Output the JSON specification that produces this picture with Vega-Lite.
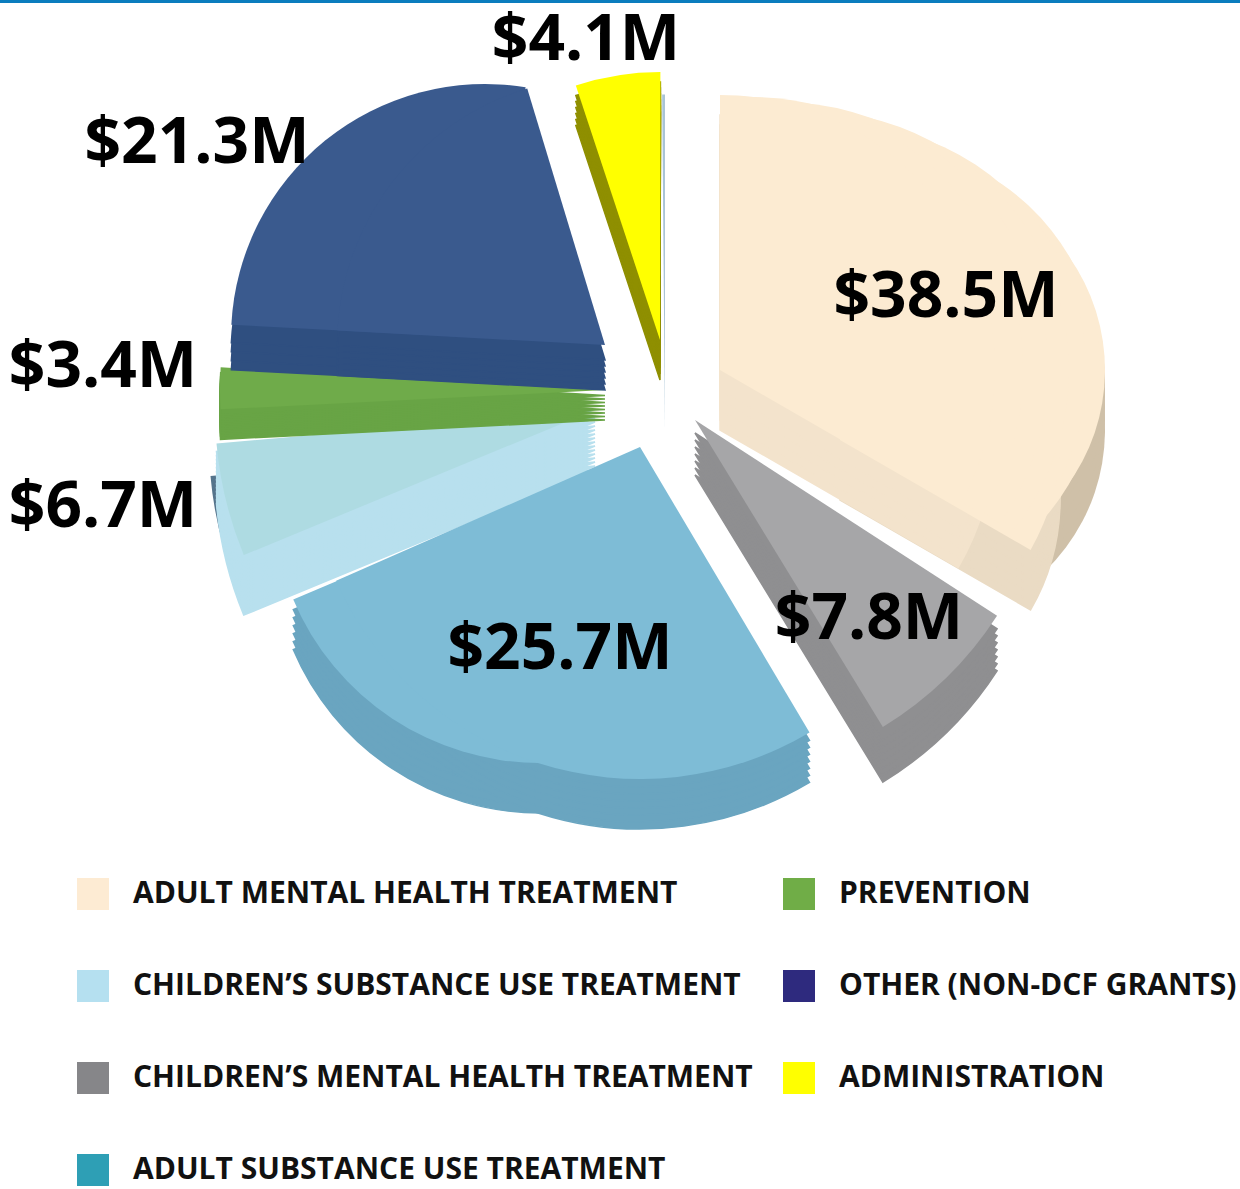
{"$schema":"https://vega.github.io/schema/vega-lite/v6.json","width":1240,"height":1189,"autosize":{"type":"none"},"padding":0,"background":"white","config":{"view":{"stroke":null}},
"data":{"values":[
{"order":1,"category":"ADULT MENTAL HEALTH TREATMENT","value":38.5,"label":"$38.5M"},
{"order":2,"category":"CHILDREN’S MENTAL HEALTH TREATMENT","value":7.8,"label":"$7.8M"},
{"order":3,"category":"ADULT SUBSTANCE USE TREATMENT","value":25.7,"label":"$25.7M"},
{"order":4,"category":"CHILDREN’S SUBSTANCE USE TREATMENT","value":6.7,"label":"$6.7M"},
{"order":5,"category":"PREVENTION","value":3.4,"label":"$3.4M"},
{"order":6,"category":"OTHER (NON-DCF GRANTS)","value":21.3,"label":"$21.3M"},
{"order":7,"category":"ADMINISTRATION","value":4.1,"label":"$4.1M"},
{"order":8,"category":"OTHER SLIVER","value":0.3,"label":""}
]},
"transform":[{"stack":"value","sort":[{"field":"order","order":"ascending"}],"as":["s","e"]}],
"encoding":{"theta":{"field":"s","type":"quantitative","scale":{"domain":[0,107.8],"range":[0,6.28319]}},"theta2":{"field":"e"}},
"layer":[
{"transform":[{"filter":"datum.order<8"}],"mark":{"type":"arc","opacity":0,"outerRadius":5},"encoding":{"fill":{"field":"category","type":"nominal","scale":{"domain":["ADULT MENTAL HEALTH TREATMENT","CHILDREN’S SUBSTANCE USE TREATMENT","CHILDREN’S MENTAL HEALTH TREATMENT","ADULT SUBSTANCE USE TREATMENT","PREVENTION","OTHER (NON-DCF GRANTS)","ADMINISTRATION"],"range":["#FDEBD3","#B5E0F0","#868689","#2E9FB5","#70AD47","#2E2A7E","#FFFF00"]},"legend":{"title":null,"orient":"none","legendX":77,"legendY":878,"columns":2,"direction":"vertical","symbolType":"square","symbolSize":1024,"symbolOpacity":1,"symbolStrokeWidth":0,"labelFont":"Open Sans","labelFontWeight":"bold","labelFontSize":30,"labelColor":"#111","labelLimit":800,"labelOffset":24,"rowPadding":60,"columnPadding":30,"gridAlign":"each"}}}},

{"transform":[{"filter":"datum.order==1"}],"mark":{"type":"arc","fill":"#CFC0A8","outerRadius":196,"xOffset":289,"yOffset":-164.5,"theta2Offset":0.286}},
{"transform":[{"filter":"datum.order==1"}],"mark":{"type":"arc","fill":"#CFC0A8","outerRadius":196,"xOffset":289,"yOffset":-176.5,"theta2Offset":0.286}},
{"transform":[{"filter":"datum.order==1"}],"mark":{"type":"arc","fill":"#CFC0A8","outerRadius":196,"xOffset":289,"yOffset":-188.5,"theta2Offset":0.286}},
{"transform":[{"filter":"datum.order==1"}],"mark":{"type":"arc","fill":"#CFC0A8","outerRadius":196,"xOffset":289,"yOffset":-200.5,"theta2Offset":0.286}},
{"transform":[{"filter":"datum.order==1"}],"mark":{"type":"arc","fill":"#CFC0A8","outerRadius":196,"xOffset":289,"yOffset":-212.5,"theta2Offset":0.286}},
{"transform":[{"filter":"datum.order==1"}],"mark":{"type":"arc","fill":"#EADBC4","stroke":"#EADBC4","strokeWidth":1.5,"outerRadius":220,"xOffset":220,"yOffset":-94.5,"theta2Offset":-0.15}},
{"transform":[{"filter":"datum.order==1"}],"mark":{"type":"arc","fill":"#EADBC4","stroke":"#EADBC4","strokeWidth":1.5,"outerRadius":220,"xOffset":220,"yOffset":-102.5,"theta2Offset":-0.15}},
{"transform":[{"filter":"datum.order==1"}],"mark":{"type":"arc","fill":"#EADBC4","stroke":"#EADBC4","strokeWidth":1.5,"outerRadius":220,"xOffset":220,"yOffset":-110.5,"theta2Offset":-0.15}},
{"transform":[{"filter":"datum.order==1"}],"mark":{"type":"arc","fill":"#EADBC4","stroke":"#EADBC4","strokeWidth":1.5,"outerRadius":220,"xOffset":220,"yOffset":-118.5,"theta2Offset":-0.15}},
{"transform":[{"filter":"datum.order==1"}],"mark":{"type":"arc","fill":"#EADBC4","stroke":"#EADBC4","strokeWidth":1.5,"outerRadius":220,"xOffset":220,"yOffset":-126.5,"theta2Offset":-0.15}},
{"transform":[{"filter":"datum.order==1"}],"mark":{"type":"arc","fill":"#EADBC4","stroke":"#EADBC4","strokeWidth":1.5,"outerRadius":220,"xOffset":220,"yOffset":-134.5,"theta2Offset":-0.15}},
{"transform":[{"filter":"datum.order==1"}],"mark":{"type":"arc","fill":"#EADBC4","stroke":"#EADBC4","strokeWidth":1.5,"outerRadius":220,"xOffset":220,"yOffset":-142.5,"theta2Offset":-0.15}},
{"transform":[{"filter":"datum.order==1"}],"mark":{"type":"arc","fill":"#F3E3CC","stroke":"#F3E3CC","strokeWidth":1.5,"outerRadius":275,"xOffset":100,"yOffset":-164.5,"theta2Offset":-0.15}},
{"transform":[{"filter":"datum.order==1"}],"mark":{"type":"arc","fill":"#F3E3CC","stroke":"#F3E3CC","strokeWidth":1.5,"outerRadius":275,"xOffset":100,"yOffset":-174.5,"theta2Offset":-0.15}},
{"transform":[{"filter":"datum.order==1"}],"mark":{"type":"arc","fill":"#F3E3CC","stroke":"#F3E3CC","strokeWidth":1.5,"outerRadius":275,"xOffset":100,"yOffset":-184.5,"theta2Offset":-0.15}},
{"transform":[{"filter":"datum.order==1"}],"mark":{"type":"arc","fill":"#F3E3CC","stroke":"#F3E3CC","strokeWidth":1.5,"outerRadius":275,"xOffset":100,"yOffset":-194.5,"theta2Offset":-0.15}},
{"transform":[{"filter":"datum.order==1"}],"mark":{"type":"arc","fill":"#F3E3CC","stroke":"#F3E3CC","strokeWidth":1.5,"outerRadius":275,"xOffset":100,"yOffset":-204.5,"theta2Offset":-0.15}},
{"transform":[{"filter":"datum.order==1"}],"mark":{"type":"arc","fill":"#FCEBD2","outerRadius":196,"xOffset":289,"yOffset":-224.5,"theta2Offset":0.286}},
{"transform":[{"filter":"datum.order==1"}],"mark":{"type":"arc","fill":"#FCEBD2","outerRadius":225,"xOffset":255,"yOffset":-224.5,"theta2Offset":0.164}},
{"transform":[{"filter":"datum.order==1"}],"mark":{"type":"arc","fill":"#FCEBD2","outerRadius":246,"xOffset":220,"yOffset":-224.5,"theta2Offset":0.094}},
{"transform":[{"filter":"datum.order==1"}],"mark":{"type":"arc","fill":"#FCEBD2","outerRadius":220,"xOffset":220,"yOffset":-154.5,"theta2Offset":-0.15}},
{"transform":[{"filter":"datum.order==1"}],"mark":{"type":"arc","fill":"#FCEBD2","outerRadius":259,"xOffset":190,"yOffset":-224.5,"theta2Offset":-0.01}},
{"transform":[{"filter":"datum.order==1"}],"mark":{"type":"arc","fill":"#FCEBD2","outerRadius":268,"xOffset":160,"yOffset":-224.5,"theta2Offset":-0.063}},
{"transform":[{"filter":"datum.order==1"}],"mark":{"type":"arc","fill":"#FCEBD2","outerRadius":273,"xOffset":130,"yOffset":-224.5,"theta2Offset":-0.115}},
{"transform":[{"filter":"datum.order==1"}],"mark":{"type":"arc","fill":"#FCEBD2","outerRadius":275,"xOffset":100,"yOffset":-224.5,"theta2Offset":-0.15}},

{"transform":[{"filter":"datum.order==2"}],"mark":{"type":"arc","fill":"#8F8F91","stroke":"#8F8F91","strokeWidth":1.5,"outerRadius":360,"xOffset":75,"yOffset":-119.5,"thetaOffset":-0.098,"theta2Offset":-0.106}},
{"transform":[{"filter":"datum.order==2"}],"mark":{"type":"arc","fill":"#8F8F91","stroke":"#8F8F91","strokeWidth":1.5,"outerRadius":360,"xOffset":75,"yOffset":-126.5,"thetaOffset":-0.098,"theta2Offset":-0.106}},
{"transform":[{"filter":"datum.order==2"}],"mark":{"type":"arc","fill":"#8F8F91","stroke":"#8F8F91","strokeWidth":1.5,"outerRadius":360,"xOffset":75,"yOffset":-133.5,"thetaOffset":-0.098,"theta2Offset":-0.106}},
{"transform":[{"filter":"datum.order==2"}],"mark":{"type":"arc","fill":"#8F8F91","stroke":"#8F8F91","strokeWidth":1.5,"outerRadius":360,"xOffset":75,"yOffset":-140.5,"thetaOffset":-0.098,"theta2Offset":-0.106}},
{"transform":[{"filter":"datum.order==2"}],"mark":{"type":"arc","fill":"#8F8F91","stroke":"#8F8F91","strokeWidth":1.5,"outerRadius":360,"xOffset":75,"yOffset":-147.5,"thetaOffset":-0.098,"theta2Offset":-0.106}},
{"transform":[{"filter":"datum.order==2"}],"mark":{"type":"arc","fill":"#8F8F91","stroke":"#8F8F91","strokeWidth":1.5,"outerRadius":360,"xOffset":75,"yOffset":-154.5,"thetaOffset":-0.098,"theta2Offset":-0.106}},
{"transform":[{"filter":"datum.order==2"}],"mark":{"type":"arc","fill":"#8F8F91","stroke":"#8F8F91","strokeWidth":1.5,"outerRadius":360,"xOffset":75,"yOffset":-161.5,"thetaOffset":-0.098,"theta2Offset":-0.106}},
{"transform":[{"filter":"datum.order==2"}],"mark":{"type":"arc","fill":"#A6A6A8","outerRadius":360,"xOffset":75,"yOffset":-174.5,"thetaOffset":-0.098,"theta2Offset":-0.106}},

{"transform":[{"filter":"datum.order==4"}],"mark":{"type":"arc","fill":"#55748C","innerRadius":300,"outerRadius":380,"xOffset":-31,"yOffset":-152,"thetaOffset":0.124,"theta2Offset":0.037}},
{"transform":[{"filter":"datum.order==4"}],"mark":{"type":"arc","fill":"#B8E0EE","stroke":"#B8E0EE","strokeWidth":1.5,"outerRadius":380,"xOffset":-25,"yOffset":-124.5,"thetaOffset":0.124,"theta2Offset":0.037}},
{"transform":[{"filter":"datum.order==4"}],"mark":{"type":"arc","fill":"#B8E0EE","stroke":"#B8E0EE","strokeWidth":1.5,"outerRadius":380,"xOffset":-25,"yOffset":-128.5,"thetaOffset":0.124,"theta2Offset":0.037}},
{"transform":[{"filter":"datum.order==4"}],"mark":{"type":"arc","fill":"#B8E0EE","stroke":"#B8E0EE","strokeWidth":1.5,"outerRadius":380,"xOffset":-25,"yOffset":-132.5,"thetaOffset":0.124,"theta2Offset":0.037}},
{"transform":[{"filter":"datum.order==4"}],"mark":{"type":"arc","fill":"#B8E0EE","stroke":"#B8E0EE","strokeWidth":1.5,"outerRadius":380,"xOffset":-25,"yOffset":-136.5,"thetaOffset":0.124,"theta2Offset":0.037}},
{"transform":[{"filter":"datum.order==4"}],"mark":{"type":"arc","fill":"#B8E0EE","stroke":"#B8E0EE","strokeWidth":1.5,"outerRadius":380,"xOffset":-25,"yOffset":-140.5,"thetaOffset":0.124,"theta2Offset":0.037}},
{"transform":[{"filter":"datum.order==4"}],"mark":{"type":"arc","fill":"#B8E0EE","stroke":"#B8E0EE","strokeWidth":1.5,"outerRadius":380,"xOffset":-25,"yOffset":-144.5,"thetaOffset":0.124,"theta2Offset":0.037}},
{"transform":[{"filter":"datum.order==4"}],"mark":{"type":"arc","fill":"#B8E0EE","stroke":"#B8E0EE","strokeWidth":1.5,"outerRadius":380,"xOffset":-25,"yOffset":-148.5,"thetaOffset":0.124,"theta2Offset":0.037}},
{"transform":[{"filter":"datum.order==4"}],"mark":{"type":"arc","fill":"#B8E0EE","stroke":"#B8E0EE","strokeWidth":1.5,"outerRadius":380,"xOffset":-25,"yOffset":-152.5,"thetaOffset":0.124,"theta2Offset":0.037}},
{"transform":[{"filter":"datum.order==4"}],"mark":{"type":"arc","fill":"#B8E0EE","stroke":"#B8E0EE","strokeWidth":1.5,"outerRadius":380,"xOffset":-25,"yOffset":-156.5,"thetaOffset":0.124,"theta2Offset":0.037}},
{"transform":[{"filter":"datum.order==4"}],"mark":{"type":"arc","fill":"#B8E0EE","stroke":"#B8E0EE","strokeWidth":1.5,"outerRadius":380,"xOffset":-25,"yOffset":-160.5,"thetaOffset":0.124,"theta2Offset":0.037}},
{"transform":[{"filter":"datum.order==4"}],"mark":{"type":"arc","fill":"#B8E0EE","stroke":"#B8E0EE","strokeWidth":1.5,"outerRadius":380,"xOffset":-25,"yOffset":-164.5,"thetaOffset":0.124,"theta2Offset":0.037}},
{"transform":[{"filter":"datum.order==4"}],"mark":{"type":"arc","fill":"#B8E0EE","stroke":"#B8E0EE","strokeWidth":1.5,"outerRadius":380,"xOffset":-25,"yOffset":-168.5,"thetaOffset":0.124,"theta2Offset":0.037}},
{"transform":[{"filter":"datum.order==4"}],"mark":{"type":"arc","fill":"#B8E0EE","stroke":"#B8E0EE","strokeWidth":1.5,"outerRadius":380,"xOffset":-25,"yOffset":-172.5,"thetaOffset":0.124,"theta2Offset":0.037}},
{"transform":[{"filter":"datum.order==4"}],"mark":{"type":"arc","fill":"#B8E0EE","stroke":"#B8E0EE","strokeWidth":1.5,"outerRadius":380,"xOffset":-25,"yOffset":-176.5,"thetaOffset":0.124,"theta2Offset":0.037}},
{"transform":[{"filter":"datum.order==4"}],"mark":{"type":"arc","fill":"#AEDBE2","outerRadius":380,"xOffset":-25,"yOffset":-184.5,"thetaOffset":0.124,"theta2Offset":0.037}},

{"transform":[{"filter":"datum.order==3"}],"mark":{"type":"arc","fill":"#6AA5C0","stroke":"#6AA5C0","strokeWidth":1.5,"outerRadius":268,"xOffset":-80,"yOffset":-49.5,"thetaOffset":0.443,"theta2Offset":0.115}},
{"transform":[{"filter":"datum.order==3"}],"mark":{"type":"arc","fill":"#6AA5C0","stroke":"#6AA5C0","strokeWidth":1.5,"outerRadius":268,"xOffset":-80,"yOffset":-57.5,"thetaOffset":0.443,"theta2Offset":0.115}},
{"transform":[{"filter":"datum.order==3"}],"mark":{"type":"arc","fill":"#6AA5C0","stroke":"#6AA5C0","strokeWidth":1.5,"outerRadius":268,"xOffset":-80,"yOffset":-65.5,"thetaOffset":0.443,"theta2Offset":0.115}},
{"transform":[{"filter":"datum.order==3"}],"mark":{"type":"arc","fill":"#6AA5C0","stroke":"#6AA5C0","strokeWidth":1.5,"outerRadius":268,"xOffset":-80,"yOffset":-73.5,"thetaOffset":0.443,"theta2Offset":0.115}},
{"transform":[{"filter":"datum.order==3"}],"mark":{"type":"arc","fill":"#6AA5C0","stroke":"#6AA5C0","strokeWidth":1.5,"outerRadius":268,"xOffset":-80,"yOffset":-81.5,"thetaOffset":0.443,"theta2Offset":0.115}},
{"transform":[{"filter":"datum.order==3"}],"mark":{"type":"arc","fill":"#6AA5C0","stroke":"#6AA5C0","strokeWidth":1.5,"outerRadius":268,"xOffset":-80,"yOffset":-89.5,"thetaOffset":0.443,"theta2Offset":0.115}},
{"transform":[{"filter":"datum.order==3"}],"mark":{"type":"arc","fill":"#6AA5C0","stroke":"#6AA5C0","strokeWidth":1.5,"outerRadius":332,"xOffset":20,"yOffset":-97.5,"thetaOffset":-0.093,"theta2Offset":0.101}},
{"transform":[{"filter":"datum.order==3"}],"mark":{"type":"arc","fill":"#6AA5C0","stroke":"#6AA5C0","strokeWidth":1.5,"outerRadius":332,"xOffset":20,"yOffset":-104.5,"thetaOffset":-0.093,"theta2Offset":0.101}},
{"transform":[{"filter":"datum.order==3"}],"mark":{"type":"arc","fill":"#6AA5C0","stroke":"#6AA5C0","strokeWidth":1.5,"outerRadius":332,"xOffset":20,"yOffset":-111.5,"thetaOffset":-0.093,"theta2Offset":0.101}},
{"transform":[{"filter":"datum.order==3"}],"mark":{"type":"arc","fill":"#6AA5C0","stroke":"#6AA5C0","strokeWidth":1.5,"outerRadius":332,"xOffset":20,"yOffset":-118.5,"thetaOffset":-0.093,"theta2Offset":0.101}},
{"transform":[{"filter":"datum.order==3"}],"mark":{"type":"arc","fill":"#6AA5C0","stroke":"#6AA5C0","strokeWidth":1.5,"outerRadius":332,"xOffset":20,"yOffset":-125.5,"thetaOffset":-0.093,"theta2Offset":0.101}},
{"transform":[{"filter":"datum.order==3"}],"mark":{"type":"arc","fill":"#6AA5C0","stroke":"#6AA5C0","strokeWidth":1.5,"outerRadius":332,"xOffset":20,"yOffset":-132.5,"thetaOffset":-0.093,"theta2Offset":0.101}},
{"transform":[{"filter":"datum.order==3"}],"mark":{"type":"arc","fill":"#6AA5C0","stroke":"#6AA5C0","strokeWidth":1.5,"outerRadius":332,"xOffset":20,"yOffset":-139.5,"thetaOffset":-0.093,"theta2Offset":0.101}},
{"transform":[{"filter":"datum.order==3"}],"mark":{"type":"arc","fill":"#7EBCD6","outerRadius":268,"xOffset":-80,"yOffset":-99.5,"thetaOffset":0.443,"theta2Offset":0.115}},
{"transform":[{"filter":"datum.order==3"}],"mark":{"type":"arc","fill":"#7EBCD6","outerRadius":332,"xOffset":20,"yOffset":-147.5,"thetaOffset":-0.093,"theta2Offset":0.101}},

{"transform":[{"filter":"datum.order==5"}],"mark":{"type":"arc","fill":"#68A445","stroke":"#68A445","strokeWidth":1.5,"outerRadius":385,"xOffset":-15,"yOffset":-174.5,"thetaOffset":0.075,"theta2Offset":-0.014}},
{"transform":[{"filter":"datum.order==5"}],"mark":{"type":"arc","fill":"#68A445","stroke":"#68A445","strokeWidth":1.5,"outerRadius":385,"xOffset":-15,"yOffset":-178,"thetaOffset":0.075,"theta2Offset":-0.014}},
{"transform":[{"filter":"datum.order==5"}],"mark":{"type":"arc","fill":"#68A445","stroke":"#68A445","strokeWidth":1.5,"outerRadius":385,"xOffset":-15,"yOffset":-181.5,"thetaOffset":0.075,"theta2Offset":-0.014}},
{"transform":[{"filter":"datum.order==5"}],"mark":{"type":"arc","fill":"#68A445","stroke":"#68A445","strokeWidth":1.5,"outerRadius":385,"xOffset":-15,"yOffset":-185,"thetaOffset":0.075,"theta2Offset":-0.014}},
{"transform":[{"filter":"datum.order==5"}],"mark":{"type":"arc","fill":"#68A445","stroke":"#68A445","strokeWidth":1.5,"outerRadius":385,"xOffset":-15,"yOffset":-188.5,"thetaOffset":0.075,"theta2Offset":-0.014}},
{"transform":[{"filter":"datum.order==5"}],"mark":{"type":"arc","fill":"#68A445","stroke":"#68A445","strokeWidth":1.5,"outerRadius":385,"xOffset":-15,"yOffset":-192,"thetaOffset":0.075,"theta2Offset":-0.014}},
{"transform":[{"filter":"datum.order==5"}],"mark":{"type":"arc","fill":"#68A445","stroke":"#68A445","strokeWidth":1.5,"outerRadius":385,"xOffset":-15,"yOffset":-195.5,"thetaOffset":0.075,"theta2Offset":-0.014}},
{"transform":[{"filter":"datum.order==5"}],"mark":{"type":"arc","fill":"#68A445","stroke":"#68A445","strokeWidth":1.5,"outerRadius":385,"xOffset":-15,"yOffset":-199,"thetaOffset":0.075,"theta2Offset":-0.014}},
{"transform":[{"filter":"datum.order==5"}],"mark":{"type":"arc","fill":"#6FAB4A","outerRadius":385,"xOffset":-15,"yOffset":-204.5,"thetaOffset":0.075,"theta2Offset":-0.014}},

{"transform":[{"filter":"datum.order==6"}],"mark":{"type":"arc","fill":"#2F4F80","stroke":"#2F4F80","strokeWidth":1.5,"outerRadius":254,"xOffset":-135,"yOffset":-211.5,"thetaOffset":-0.021,"theta2Offset":0.417}},
{"transform":[{"filter":"datum.order==6"}],"mark":{"type":"arc","fill":"#2F4F80","stroke":"#2F4F80","strokeWidth":1.5,"outerRadius":254,"xOffset":-135,"yOffset":-220.5,"thetaOffset":-0.021,"theta2Offset":0.417}},
{"transform":[{"filter":"datum.order==6"}],"mark":{"type":"arc","fill":"#2F4F80","stroke":"#2F4F80","strokeWidth":1.5,"outerRadius":254,"xOffset":-135,"yOffset":-229.5,"thetaOffset":-0.021,"theta2Offset":0.417}},
{"transform":[{"filter":"datum.order==6"}],"mark":{"type":"arc","fill":"#2F4F80","stroke":"#2F4F80","strokeWidth":1.5,"outerRadius":254,"xOffset":-135,"yOffset":-238.5,"thetaOffset":-0.021,"theta2Offset":0.417}},
{"transform":[{"filter":"datum.order==6"}],"mark":{"type":"arc","fill":"#2F4F80","stroke":"#2F4F80","strokeWidth":1.5,"outerRadius":268,"xOffset":-15,"yOffset":-204.5,"thetaOffset":-0.019,"theta2Offset":-0.038}},
{"transform":[{"filter":"datum.order==6"}],"mark":{"type":"arc","fill":"#2F4F80","stroke":"#2F4F80","strokeWidth":1.5,"outerRadius":268,"xOffset":-15,"yOffset":-210.5,"thetaOffset":-0.019,"theta2Offset":-0.038}},
{"transform":[{"filter":"datum.order==6"}],"mark":{"type":"arc","fill":"#2F4F80","stroke":"#2F4F80","strokeWidth":1.5,"outerRadius":268,"xOffset":-15,"yOffset":-216.5,"thetaOffset":-0.019,"theta2Offset":-0.038}},
{"transform":[{"filter":"datum.order==6"}],"mark":{"type":"arc","fill":"#2F4F80","stroke":"#2F4F80","strokeWidth":1.5,"outerRadius":268,"xOffset":-15,"yOffset":-222.5,"thetaOffset":-0.019,"theta2Offset":-0.038}},
{"transform":[{"filter":"datum.order==6"}],"mark":{"type":"arc","fill":"#2F4F80","stroke":"#2F4F80","strokeWidth":1.5,"outerRadius":268,"xOffset":-15,"yOffset":-228.5,"thetaOffset":-0.019,"theta2Offset":-0.038}},
{"transform":[{"filter":"datum.order==6"}],"mark":{"type":"arc","fill":"#2F4F80","stroke":"#2F4F80","strokeWidth":1.5,"outerRadius":268,"xOffset":-15,"yOffset":-234.5,"thetaOffset":-0.019,"theta2Offset":-0.038}},
{"transform":[{"filter":"datum.order==6"}],"mark":{"type":"arc","fill":"#3A5A8E","outerRadius":254,"xOffset":-135,"yOffset":-256.5,"thetaOffset":-0.021,"theta2Offset":0.417}},
{"transform":[{"filter":"datum.order==6"}],"mark":{"type":"arc","fill":"#3A5A8E","outerRadius":268,"xOffset":-15,"yOffset":-249.5,"thetaOffset":-0.019,"theta2Offset":-0.038}},

{"transform":[{"filter":"datum.order==7"}],"mark":{"type":"arc","fill":"#8F8F00","stroke":"#8F8F00","strokeWidth":1.5,"outerRadius":268,"xOffset":40,"yOffset":-214.5,"thetaOffset":-0.063,"theta2Offset":0.019}},
{"transform":[{"filter":"datum.order==7"}],"mark":{"type":"arc","fill":"#8F8F00","stroke":"#8F8F00","strokeWidth":1.5,"outerRadius":268,"xOffset":40,"yOffset":-220.5,"thetaOffset":-0.063,"theta2Offset":0.019}},
{"transform":[{"filter":"datum.order==7"}],"mark":{"type":"arc","fill":"#8F8F00","stroke":"#8F8F00","strokeWidth":1.5,"outerRadius":268,"xOffset":40,"yOffset":-226.5,"thetaOffset":-0.063,"theta2Offset":0.019}},
{"transform":[{"filter":"datum.order==7"}],"mark":{"type":"arc","fill":"#8F8F00","stroke":"#8F8F00","strokeWidth":1.5,"outerRadius":268,"xOffset":40,"yOffset":-232.5,"thetaOffset":-0.063,"theta2Offset":0.019}},
{"transform":[{"filter":"datum.order==7"}],"mark":{"type":"arc","fill":"#8F8F00","stroke":"#8F8F00","strokeWidth":1.5,"outerRadius":268,"xOffset":40,"yOffset":-238.5,"thetaOffset":-0.063,"theta2Offset":0.019}},
{"transform":[{"filter":"datum.order==7"}],"mark":{"type":"arc","fill":"#8F8F00","stroke":"#8F8F00","strokeWidth":1.5,"outerRadius":268,"xOffset":40,"yOffset":-244.5,"thetaOffset":-0.063,"theta2Offset":0.019}},
{"transform":[{"filter":"datum.order==7"}],"mark":{"type":"arc","fill":"#FFFF00","outerRadius":268,"xOffset":40,"yOffset":-254.5,"thetaOffset":-0.063,"theta2Offset":0.019}},
{"transform":[{"filter":"datum.order==8"}],"mark":{"type":"arc","fill":"#A9C4D6","outerRadius":335,"xOffset":45,"yOffset":-165,"thetaOffset":0.009}},

{"mark":{"type":"rule","stroke":"#0A7DBE","strokeWidth":3},"encoding":{"y":{"value":1},"theta":null,"theta2":null}},
{"transform":[{"filter":"datum.order==1"}],"mark":{"type":"text","font":"Open Sans","fontWeight":"bold","fontSize":64,"fill":"#000","xOffset":326,"yOffset":-297},"encoding":{"text":{"field":"label"},"theta":null,"theta2":null}},
{"transform":[{"filter":"datum.order==2"}],"mark":{"type":"text","font":"Open Sans","fontWeight":"bold","fontSize":64,"fill":"#000","xOffset":249,"yOffset":25},"encoding":{"text":{"field":"label"},"theta":null,"theta2":null}},
{"transform":[{"filter":"datum.order==3"}],"mark":{"type":"text","font":"Open Sans","fontWeight":"bold","fontSize":64,"fill":"#000","xOffset":-60,"yOffset":55},"encoding":{"text":{"field":"label"},"theta":null,"theta2":null}},
{"transform":[{"filter":"datum.order==4"}],"mark":{"type":"text","font":"Open Sans","fontWeight":"bold","fontSize":64,"fill":"#000","xOffset":-517,"yOffset":-87},"encoding":{"text":{"field":"label"},"theta":null,"theta2":null}},
{"transform":[{"filter":"datum.order==5"}],"mark":{"type":"text","font":"Open Sans","fontWeight":"bold","fontSize":64,"fill":"#000","xOffset":-517,"yOffset":-227},"encoding":{"text":{"field":"label"},"theta":null,"theta2":null}},
{"transform":[{"filter":"datum.order==6"}],"mark":{"type":"text","font":"Open Sans","fontWeight":"bold","fontSize":64,"fill":"#000","xOffset":-423,"yOffset":-451},"encoding":{"text":{"field":"label"},"theta":null,"theta2":null}},
{"transform":[{"filter":"datum.order==7"}],"mark":{"type":"text","font":"Open Sans","fontWeight":"bold","fontSize":64,"fill":"#000","xOffset":-34,"yOffset":-554},"encoding":{"text":{"field":"label"},"theta":null,"theta2":null}}
]}
